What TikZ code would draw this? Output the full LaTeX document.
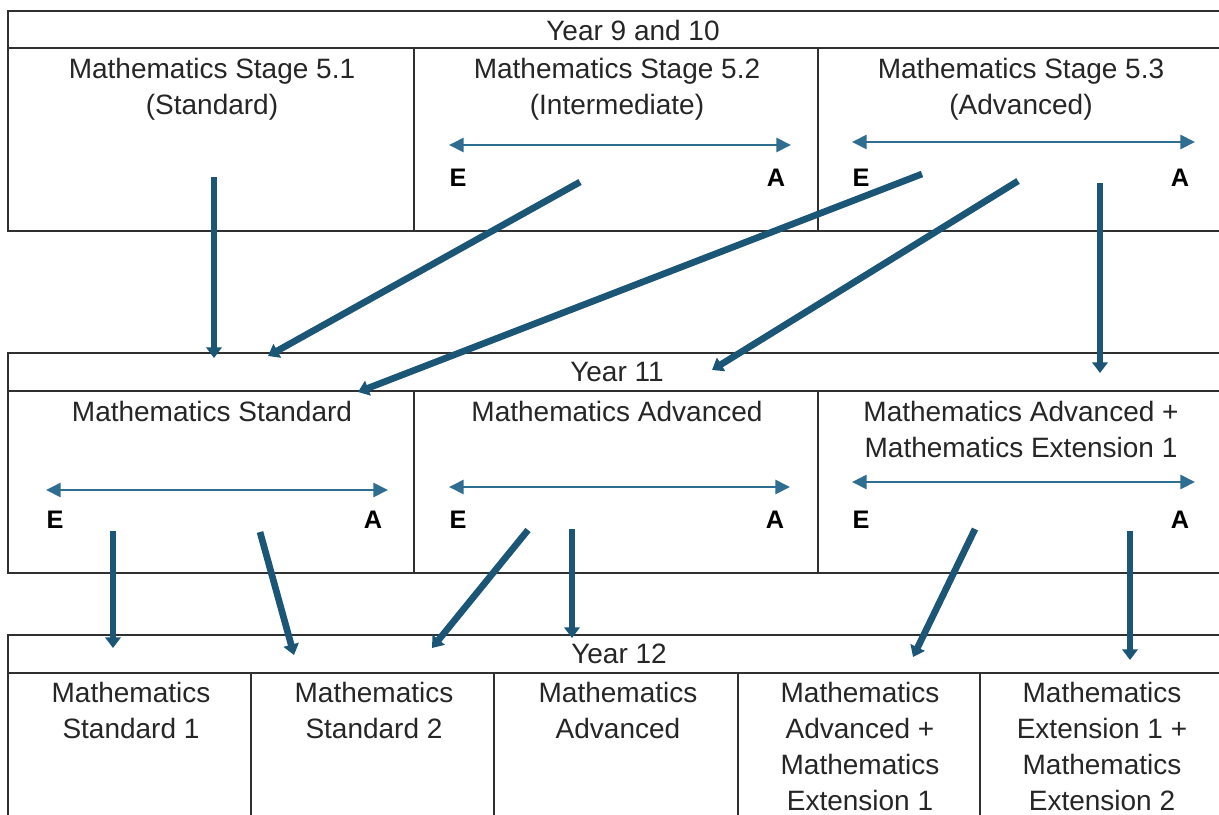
\documentclass[tikz,border=0pt]{standalone}
\usepackage{fontspec}
\setmainfont{Liberation Sans}
\usetikzlibrary{arrows.meta}

\definecolor{flow}{HTML}{1B5676}
\definecolor{range}{HTML}{2F6E91}
\definecolor{grid}{HTML}{303030}

\tikzset{
	cell/.style={draw=grid, line width=1.4pt},
	lbl/.style={align=center, text=black!85, font=\fontsize{21}{27}\selectfont},
	ea/.style={text=black, font=\fontsize{19}{22}\selectfont\bfseries},
	flowarrow/.style={draw=flow, line width=5pt, -{Triangle[width=11.5pt,length=8pt]}},
	rangearrow/.style={draw=range, line width=2pt, {Triangle[width=10.5pt,length=11pt]}-{Triangle[width=10.5pt,length=11pt]}},
}

\begin{document}
\begin{tikzpicture}[x=0.75pt, y=-0.75pt]
		\useasboundingbox (0,0) rectangle (1219,814);
		\clip (0,0) rectangle (1219,814);
		\fill[white] (0,0) rectangle (1219,814);
		
		% Year 9 and 10
		\draw[cell] (8,11) rectangle (1224,48);
		\draw[cell] (8,48) rectangle (414,231);
		\draw[cell] (414,48) rectangle (818,231);
		\draw[cell] (818,48) rectangle (1224,231);
		\node[lbl] (y9) at (633,30) {Year 9 and 10};
		\node[lbl] (s51) at (212,89) {Mathematics Stage 5.1\\(Standard)};
		\node[lbl] (s52) at (617,89) {Mathematics Stage 5.2\\(Intermediate)};
		\node[lbl] (s53) at (1021,89) {Mathematics Stage 5.3\\(Advanced)};
		
		% Year 11
		\draw[cell] (8,353) rectangle (1224,391);
		\draw[cell] (8,391) rectangle (414,573);
		\draw[cell] (414,391) rectangle (818,573);
		\draw[cell] (818,391) rectangle (1224,573);
		\node[lbl] (y11) at (617,372) {Year 11};
		\node[lbl] (std) at (212,411) {Mathematics Standard};
		\node[lbl] (adv) at (617,411) {Mathematics Advanced};
		\node[lbl] (ext) at (1021,429) {Mathematics Advanced +\\Mathematics Extension 1};
		
		% Year 12
		\draw[cell] (8,635) rectangle (1224,673);
		\foreach \xa/\xb in {8/251, 251/494, 494/738, 738/980, 980/1224}
			\draw[cell] (\xa,673) rectangle (\xb,830);
		\node[lbl] (y12) at (619,654) {Year 12};
		\node[lbl, anchor=north] (stdone) at (131,677) {Mathematics\\Standard 1};
		\node[lbl, anchor=north] (stdtwo) at (374,677) {Mathematics\\Standard 2};
		\node[lbl, anchor=north] (advtwelve) at (618,677) {Mathematics\\Advanced};
		\node[lbl, anchor=north] (extone) at (860,677) {Mathematics\\Advanced +\\Mathematics\\Extension 1};
		\node[lbl, anchor=north] (exttwo) at (1102,677) {Mathematics\\Extension 1 +\\Mathematics\\Extension 2};
		
		% E..A ranges
		\foreach \n/\xe/\xa/\ya/\yl in {a/449/791/145/178, b/852/1195/142/178,
			c/46/388/490/520, d/449/790/487/520, e/852/1195/482/520}{
			\coordinate (\n-e) at (\xe,\ya);
			\coordinate (\n-a) at (\xa,\ya);
			\draw[rangearrow] (\n-e) -- (\n-a);
			\node[ea] (\n-lo) at (\xe+9,\yl) {E};
			\node[ea] (\n-hi) at (\xa-15,\yl) {A};
		}
		
		% arrows from Year 9 and 10 into Year 11
		\coordinate (p1) at (214,177);  \coordinate (q1) at (214,358);
		\coordinate (p2) at (580,182);  \coordinate (q2) at (268,356);
		\coordinate (p3) at (922,174);  \coordinate (q3) at (358,392);
		\coordinate (p4) at (1018,181); \coordinate (q4) at (712,370);
		\coordinate (p5) at (1100,183); \coordinate (q5) at (1100,373);
		\foreach \i in {1,...,5}
			\draw[flowarrow] (p\i) -- (q\i);
		
		% arrows from Year 11 into Year 12
		\coordinate (r1) at (113,531);  \coordinate (t1) at (113,648);
		\coordinate (r2) at (260,532);  \coordinate (t2) at (294,655);
		\coordinate (r3) at (528,530);  \coordinate (t3) at (432,648);
		\coordinate (r4) at (572,529);  \coordinate (t4) at (572,638);
		\coordinate (r5) at (975,529);  \coordinate (t5) at (913,657);
		\coordinate (r6) at (1130,531); \coordinate (t6) at (1130,660);
		\foreach \i in {1,...,6}
			\draw[flowarrow] (r\i) -- (t\i);
	\end{tikzpicture}
\end{document}
